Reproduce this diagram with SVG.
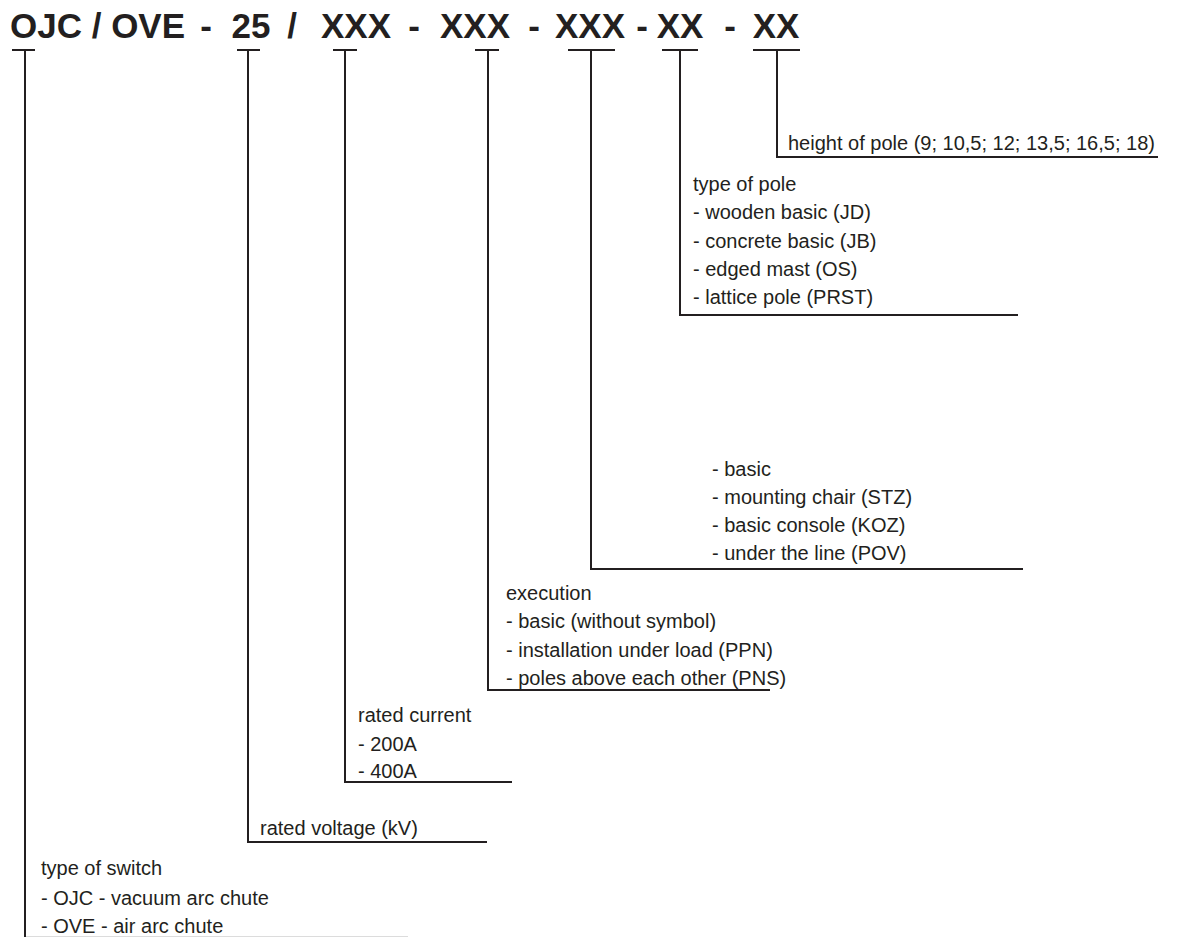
<svg xmlns="http://www.w3.org/2000/svg" width="1189" height="937" viewBox="0 0 1189 937">
<style>
.t{font-family:"Liberation Sans",Arial,sans-serif;font-size:20px;fill:#231f20}
.h{font-family:"Liberation Sans",Arial,sans-serif;font-size:35px;font-weight:bold;fill:#231f20}
.c{stroke:#231f20;stroke-width:2;fill:none}
</style>
<rect width="1189" height="937" fill="#fff"/>
<g id="title">
<text class="h" x="10" y="38">OJC / OVE</text>
<text class="h" x="206" y="38" text-anchor="middle">-</text>
<text class="h" x="251" y="38" text-anchor="middle">25</text>
<text class="h" x="292" y="38" text-anchor="middle">/</text>
<text class="h" x="356" y="38" text-anchor="middle">XXX</text>
<text class="h" x="414" y="38" text-anchor="middle">-</text>
<text class="h" x="475" y="38" text-anchor="middle">XXX</text>
<text class="h" x="534" y="38" text-anchor="middle">-</text>
<text class="h" x="590" y="38" text-anchor="middle">XXX</text>
<text class="h" x="642" y="38" text-anchor="middle">-</text>
<text class="h" x="680" y="38" text-anchor="middle">XX</text>
<text class="h" x="730" y="38" text-anchor="middle">-</text>
<text class="h" x="776" y="38" text-anchor="middle">XX</text>
</g>
<g id="connectors">
<path class="c" d="M12 50H35M25 50V937"/>
<path class="c" d="M237 50H260M248 50V842H487"/>
<path class="c" d="M333 50H357M345 50V782H512"/>
<path class="c" d="M475 50H499M488 50V690H770"/>
<path class="c" d="M568 50H615M591 50V569H1023"/>
<path class="c" d="M662 50H698M680 50V315H1018"/>
<path class="c" d="M753 50H800M777 50V157H1158"/>
<path d="M26 936.5H408" stroke="#dcdcdc" stroke-width="1"/>
</g>
<g id="height">
<text class="t" x="788" y="150">height of pole (9; 10,5; 12; 13,5; 16,5; 18)</text>
</g>
<g id="pole-type">
<text class="t" x="693" y="191">type of pole</text>
<text class="t" x="693" y="219">- wooden basic (JD)</text>
<text class="t" x="693" y="248">- concrete basic (JB)</text>
<text class="t" x="693" y="276">- edged mast (OS)</text>
<text class="t" x="693" y="304">- lattice pole (PRST)</text>
</g>
<g id="mounting">
<text class="t" x="712" y="476">- basic</text>
<text class="t" x="712" y="504">- mounting chair (STZ)</text>
<text class="t" x="712" y="532">- basic console (KOZ)</text>
<text class="t" x="712" y="560">- under the line (POV)</text>
</g>
<g id="execution">
<text class="t" x="506" y="600">execution</text>
<text class="t" x="506" y="628">- basic (without symbol)</text>
<text class="t" x="506" y="657">- installation under load (PPN)</text>
<text class="t" x="506" y="685">- poles above each other (PNS)</text>
</g>
<g id="current">
<text class="t" x="358" y="722">rated current</text>
<text class="t" x="358" y="751">- 200A</text>
<text class="t" x="358" y="778">- 400A</text>
</g>
<g id="voltage">
<text class="t" x="260" y="835">rated voltage (kV)</text>
</g>
<g id="switch">
<text class="t" x="41" y="875">type of switch</text>
<text class="t" x="41" y="905">- OJC - vacuum arc chute</text>
<text class="t" x="41" y="933">- OVE - air arc chute</text>
</g>
</svg>
